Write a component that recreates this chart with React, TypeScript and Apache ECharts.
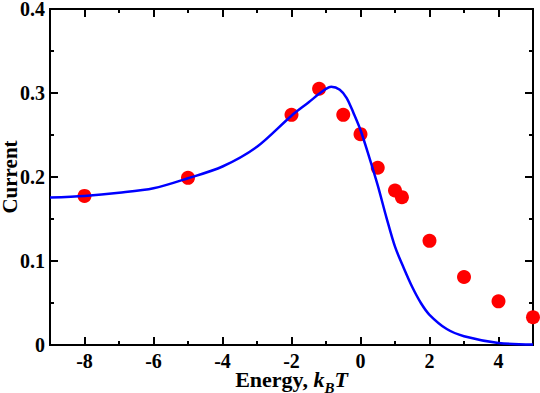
import React, { useEffect, useRef } from "react";
import * as echarts from "echarts";

const curveX = [-9, -8, -7, -6, -5, -4, -3, -2, -1.5, -1.2, -1.0, -0.85, -0.6, -0.4, -0.2, 0, 0.25, 0.5, 0.75, 1.0, 1.25, 1.5, 1.75, 2.0, 2.5, 3.0, 4.0, 5.0];
const curveY = [0.1755, 0.1775, 0.1812, 0.1865, 0.1985, 0.2125, 0.236, 0.273, 0.289, 0.299, 0.305, 0.3075, 0.304, 0.294, 0.276, 0.256, 0.224, 0.19, 0.152, 0.117, 0.092, 0.069, 0.05, 0.036, 0.019, 0.0105, 0.0025, 0.0005];

const dotX = [-8, -5, -2, -1.2, -0.5, 0, 0.5, 1.0, 1.2, 2, 3, 4, 5];
const dotY = [0.1775, 0.199, 0.274, 0.305, 0.274, 0.251, 0.211, 0.184, 0.176, 0.124, 0.081, 0.052, 0.033];

const xMajorTicks = [-8, -6, -4, -2, 0, 2, 4];

const FONT = "'Liberation Serif', 'Times New Roman', serif";

function line() {
  return { show: true, onZero: false, lineStyle: { color: "#000", width: 2 } };
}
function tick(len: number, extra: any = {}) {
  return { show: true, inside: true, length: len, lineStyle: { color: "#000", width: 2 }, ...extra };
}

function xAxisCfg(pos: string, len: number, labels: boolean, ticks: number[] | null) {
  const cfg: any = {
    type: "value",
    min: -9,
    max: 5,
    interval: 1,
    position: pos,
    splitLine: { show: false },
    axisLine: line(),
    axisTick: ticks ? tick(len, { customValues: ticks }) : tick(len),
    axisLabel: labels
      ? { show: true, customValues: xMajorTicks, margin: 9, lineHeight: 14, color: "#000", fontFamily: FONT, fontWeight: "bold", fontSize: 20 }
      : { show: false },
  };
  return cfg;
}

function yAxisCfg(pos: string, labels: boolean) {
  return {
    type: "value",
    min: 0,
    max: 0.4,
    interval: 0.1,
    position: pos,
    axisLine: line(),
    splitLine: { show: false },
    axisTick: tick(8),
    minorTick: { show: true, splitNumber: 2, length: 4, lineStyle: { color: "#000", width: 2 } },
    axisLabel: labels
      ? { show: true, margin: 5, color: "#000", fontFamily: FONT, fontWeight: "bold", fontSize: 20 }
      : { show: false },
  } as any;
}

export default function App() {
  const ref = useRef<HTMLDivElement>(null);
  useEffect(() => {
    if (!ref.current) return;
    const chart = echarts.init(ref.current, null, { renderer: "svg" });
    const xb = xAxisCfg("bottom", 8, true, xMajorTicks);
    xb.name = "{a|Energy, }{i|k}{s|B}{i|T}";
    xb.nameLocation = "middle";
    xb.nameGap = 23;
    xb.nameMoveOverlap = false;
    xb.nameTextStyle = {
      color: "#000",
      fontFamily: FONT,
      rich: {
        a: { fontFamily: FONT, fontWeight: "bold", fontSize: 22, color: "#000", lineHeight: 16, verticalAlign: "top" },
        i: { fontFamily: FONT, fontWeight: "bold", fontStyle: "italic", fontSize: 22, color: "#000", lineHeight: 16, verticalAlign: "top" },
        s: { fontFamily: FONT, fontWeight: "bold", fontStyle: "italic", fontSize: 15, color: "#000", lineHeight: 10, verticalAlign: "top", padding: [12, 0, 0, 0] },
      },
    };
    const yl = yAxisCfg("left", true);
    yl.name = "Current";
    yl.nameLocation = "middle";
    yl.nameGap = 30;
    yl.nameMoveOverlap = false;
    yl.nameTextStyle = { color: "#000", fontFamily: FONT, fontWeight: "bold", fontSize: 21 };
    chart.setOption({
      animation: false,
      grid: { left: 50, right: 7, top: 9, bottom: 48, outerBoundsMode: "none" },
      xAxis: [xb, xAxisCfg("bottom", 4, false, null), xAxisCfg("top", 8, false, xMajorTicks), xAxisCfg("top", 4, false, null)],
      yAxis: [yl, yAxisCfg("right", false)],
      series: [
        {
          type: "line",
          data: curveX.map((x, i) => [x, curveY[i]]),
          showSymbol: false,
          symbol: "none",
          smooth: 0.3,
          lineStyle: { color: "#0000ff", width: 2.5 },
        },
        {
          type: "scatter",
          data: dotX.map((x, i) => [x, dotY[i]]),
          symbolSize: 14,
          itemStyle: { color: "#ff0000", opacity: 1 },
        },
      ],
    });
    return () => chart.dispose();
  }, []);
  return <div ref={ref} style={{ width: 540, height: 393, position: "absolute", left: 0, top: 0 }} />;
}
